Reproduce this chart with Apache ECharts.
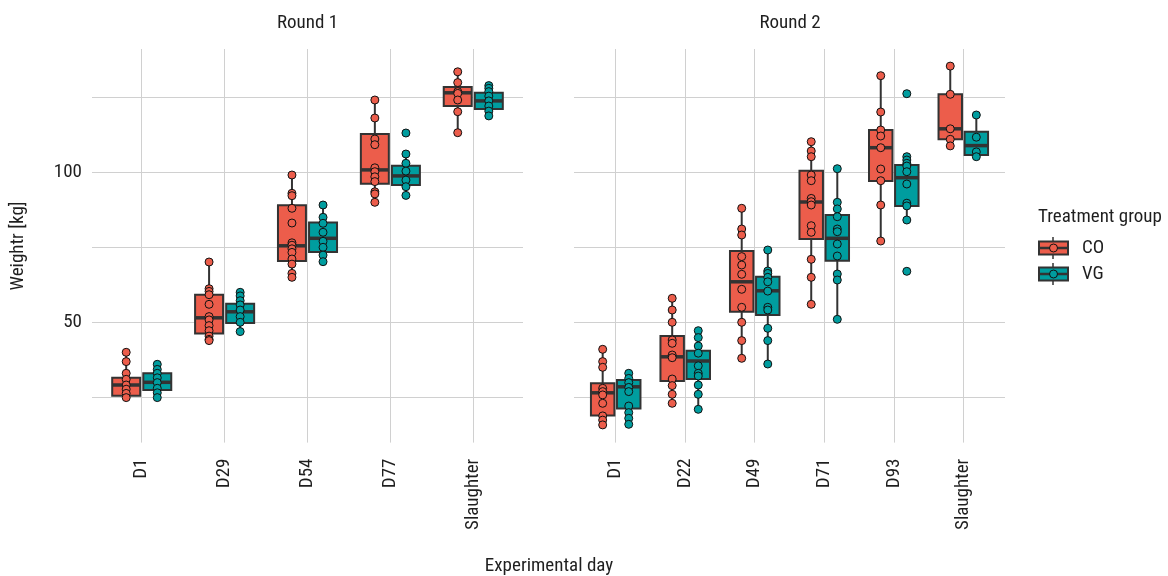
<!DOCTYPE html>
<html><head><meta charset="utf-8">
<script src="https://cdn.jsdelivr.net/npm/echarts@6/dist/echarts.min.js"></script>
<style>html,body{margin:0;padding:0;background:#fff}#c{width:1168px;height:576px}</style>
</head><body><div id="c"></div>
<script>
const FONT = "'Roboto Condensed', 'Noto Sans', sans-serif";
const FS = 19;
const round1Days = ['D1', 'D29', 'D54', 'D77', 'Slaughter'];
const round2Days = ['D1', 'D22', 'D49', 'D71', 'D93', 'Slaughter'];
const groupNames = ['CO', 'VG'];
const yGridValues = [25, 50, 75, 100, 125];
const yLabelValues = [50, 100];

// box stats per day: [lower whisker, Q1, median, Q3, upper whisker]
const r1CoBox = [[24.8, 25.4, 29.0, 31.4, 39.9], [43.8, 46.2, 51.4, 59.1, 70.0], [64.9, 70.3, 75.4, 88.9, 99.0], [89.9, 96.1, 100.7, 112.7, 124.0], [113.1, 122.0, 126.4, 128.3, 133.4]];
const r1VgBox = [[24.8, 27.3, 29.9, 32.9, 35.9], [46.8, 49.7, 53.4, 56.1, 59.9], [70.1, 73.3, 77.9, 83.2, 89.0], [92.2, 95.7, 98.7, 102.1, 106.0], [118.7, 121.0, 123.7, 126.4, 128.8]];
const r2CoBox = [[15.7, 18.8, 26.4, 29.6, 40.9], [22.9, 30.3, 38.4, 45.3, 57.9], [37.9, 53.4, 63.4, 73.7, 87.9], [55.9, 77.7, 90.0, 100.4, 110.1], [77.0, 97.0, 108.1, 114.0, 132.1], [108.7, 110.9, 114.4, 125.9, 135.3]];
const r2VgBox = [[15.9, 21.2, 28.4, 30.7, 32.9], [20.9, 31.0, 37.0, 40.4, 47.1], [36.0, 52.3, 60.4, 65.1, 74.0], [50.9, 70.4, 77.9, 85.7, 101.1], [84.0, 88.7, 98.1, 102.3, 105.1], [105.1, 105.7, 108.8, 113.4, 119.0]];

// individual animal weights per day
const r1CoPts = [
  [39.9, 36.8, 32.9, 30.9, 29.0, 27.6, 26.2, 24.8],
  [70.0, 61.1, 60.2, 59.1, 55.9, 51.8, 50.7, 48.8, 47.1, 45.3, 44.2, 43.8],
  [99.0, 92.9, 92.1, 87.9, 83.0, 76.4, 75.6, 74.4, 73.2, 71.0, 69.3, 66.2, 64.9],
  [124.0, 118.0, 111.0, 109.1, 101.4, 100.1, 98.4, 96.8, 93.4, 92.7, 89.9],
  [133.4, 129.8, 126.8, 126.2, 124.0, 120.1, 113.1]
];
const r1VgPts = [
  [35.9, 34.2, 32.9, 31.4, 29.8, 27.9, 26.4, 24.8],
  [59.9, 58.7, 57.1, 55.7, 54.0, 51.8, 49.9, 46.8],
  [89.0, 84.9, 82.9, 79.9, 76.9, 74.9, 72.3, 70.1],
  [113.0, 106.0, 102.9, 100.3, 97.3, 95.1, 92.2],
  [128.8, 127.9, 126.8, 125.3, 123.7, 122.0, 120.3, 118.7]
];
const r2CoPts = [
  [40.9, 36.8, 34.9, 27.9, 26.8, 25.7, 22.9, 18.7, 17.3, 15.7],
  [57.9, 54.0, 49.9, 44.0, 42.9, 39.0, 38.1, 31.0, 28.8, 25.9, 22.9],
  [87.9, 81.0, 79.0, 71.8, 69.0, 65.9, 60.9, 54.9, 49.9, 43.8, 37.9],
  [110.1, 107.0, 105.1, 99.0, 97.1, 91.2, 90.1, 89.0, 82.1, 79.9, 70.9, 64.9, 55.9],
  [132.1, 120.0, 114.0, 112.0, 108.1, 101.0, 97.1, 89.0, 77.0],
  [135.3, 125.9, 114.4, 110.9, 108.7]
];
const r2VgPts = [
  [32.9, 31.2, 29.8, 28.2, 26.8, 22.0, 19.8, 17.9, 15.9],
  [47.1, 44.8, 42.0, 39.6, 35.4, 32.9, 32.0, 29.0, 25.9, 20.9],
  [74.0, 67.0, 66.2, 64.9, 63.4, 60.3, 54.9, 54.0, 47.9, 43.8, 36.0],
  [101.1, 89.9, 87.7, 85.1, 81.0, 80.1, 76.0, 72.0, 66.0, 64.0, 50.9],
  [126.1, 105.1, 104.0, 102.9, 102.0, 100.1, 96.0, 89.6, 88.7, 84.0, 66.9],
  [119.0, 111.6, 106.7, 105.1]
];

const COLORS = ['#EC5D4B', '#009D9F'];
const EDGE = '#333333';
const DODGE = 0.1875;     // half of dodge spacing (category units)
const HALF_BOX = 0.16875; // half box width (category units)
const TXT = '#1f1f1f';

function boxData(stats, g) {
  return stats.map((s, i) => [i + (g === 0 ? -DODGE : DODGE)].concat(s));
}
function ptData(pts, g) {
  const out = [];
  pts.forEach((arr, i) => arr.forEach(v => out.push([i + (g === 0 ? -DODGE : DODGE), v])));
  return out;
}
function makeRender(color) {
  return function (params, api) {
    const x = api.value(0), lo = api.value(1), q1 = api.value(2), med = api.value(3), q3 = api.value(4), hi = api.value(5);
    const tl = api.coord([x - HALF_BOX, q3]);
    const br = api.coord([x + HALF_BOX, q1]);
    const pHi = api.coord([x, hi]), pLo = api.coord([x, lo]);
    const pQ3 = api.coord([x, q3]), pQ1 = api.coord([x, q1]);
    const mL = api.coord([x - HALF_BOX, med]), mR = api.coord([x + HALF_BOX, med]);
    return {
      type: 'group',
      children: [
        { type: 'line', shape: { x1: pHi[0], y1: pHi[1], x2: pQ3[0], y2: pQ3[1] }, style: { stroke: EDGE, lineWidth: 2 } },
        { type: 'line', shape: { x1: pQ1[0], y1: pQ1[1], x2: pLo[0], y2: pLo[1] }, style: { stroke: EDGE, lineWidth: 2 } },
        { type: 'rect', shape: { x: tl[0], y: tl[1], width: br[0] - tl[0], height: br[1] - tl[1] }, style: { fill: color, stroke: EDGE, lineWidth: 2 } },
        { type: 'line', shape: { x1: mL[0], y1: mL[1], x2: mR[0], y2: mR[1] }, style: { stroke: EDGE, lineWidth: 3.5 } }
      ]
    };
  };
}

function xAxisFor(gridIndex, days) {
  const idx = days.map((d, i) => i);
  return {
    type: 'value', gridIndex, min: -0.6, max: days.length - 0.4,
    axisLine: { show: false },
    axisTick: { show: false, customValues: idx },
    axisLabel: {
      customValues: idx, rotate: 90, margin: 16,
      formatter: v => days[Math.round(v)] || '',
      fontFamily: FONT, fontSize: FS, color: TXT
    },
    splitLine: { show: true, lineStyle: { color: '#d0d0d0', width: 1 } }
  };
}
function yAxisFor(gridIndex, showLabels) {
  return {
    type: 'value', gridIndex, min: 9.8, max: 141,
    axisLine: { show: false },
    axisTick: { show: false, customValues: yGridValues },
    axisLabel: { show: showLabels, customValues: yLabelValues, margin: 10, fontFamily: FONT, fontSize: FS, color: TXT },
    splitLine: { show: true, lineStyle: { color: '#d0d0d0', width: 1 } }
  };
}

const series = [];
[[r1CoBox, r1VgBox, r1CoPts, r1VgPts], [r2CoBox, r2VgBox, r2CoPts, r2VgPts]].forEach((set, gi) => {
  [0, 1].forEach(g => {
    series.push({
      type: 'custom', name: groupNames[g], xAxisIndex: gi, yAxisIndex: gi,
      renderItem: makeRender(COLORS[g]), data: boxData(set[g], g), z: 2, silent: true
    });
  });
  [0, 1].forEach(g => {
    series.push({
      type: 'scatter', name: groupNames[g], xAxisIndex: gi, yAxisIndex: gi,
      data: ptData(set[2 + g], g), symbolSize: 8, z: 3, silent: true,
      itemStyle: { color: COLORS[g], borderColor: '#111', borderWidth: 1, opacity: 1 }
    });
  });
});

function legendKey(y, color) {
  return [
    { type: 'line', shape: { x1: 1053, y1: y - 11, x2: 1053, y2: y + 11 }, style: { stroke: EDGE, lineWidth: 1.5 } },
    { type: 'rect', shape: { x: 1039, y: y - 6.5, width: 29, height: 13 }, style: { fill: color, stroke: EDGE, lineWidth: 2 } },
    { type: 'line', shape: { x1: 1039, y1: y, x2: 1068, y2: y }, style: { stroke: EDGE, lineWidth: 2.5 } },
    { type: 'circle', shape: { cx: 1053.5, cy: y, r: 4 }, style: { fill: color, stroke: '#111', lineWidth: 1 } }
  ];
}

const FONT_STR = FS + 'px ' + FONT;
const textStyle = (t, x, y, extra) => Object.assign({
  type: 'text', x, y,
  style: { text: t, fill: TXT, font: FONT_STR, align: 'center', verticalAlign: 'middle' }
}, extra || {});

const graphics = [
  textStyle('Round 1', 307.5, 23),
  textStyle('Round 2', 790, 23),
  textStyle('Experimental day', 549, 566),
  textStyle('Weightr [kg]', 18, 246, { rotation: Math.PI / 2 }),
  { type: 'text', x: 1038, y: 217, style: { text: 'Treatment group', fill: TXT, font: FONT_STR, align: 'left', verticalAlign: 'middle' } },
  { type: 'text', x: 1082, y: 248, style: { text: 'CO', fill: TXT, font: FONT_STR, align: 'left', verticalAlign: 'middle' } },
  { type: 'text', x: 1082, y: 274, style: { text: 'VG', fill: TXT, font: FONT_STR, align: 'left', verticalAlign: 'middle' } }
].concat(legendKey(248, COLORS[0]), legendKey(274, COLORS[1]));

const chart = echarts.init(document.getElementById('c'), null, { renderer: 'canvas' });
chart.setOption({
  animation: false,
  backgroundColor: '#ffffff',
  grid: [
    { left: 92, top: 49, width: 431, height: 393.6 },
    { left: 574, top: 49, width: 431, height: 393.6 }
  ],
  xAxis: [xAxisFor(0, round1Days), xAxisFor(1, round2Days)],
  yAxis: [yAxisFor(0, true), yAxisFor(1, false)],
  series,
  graphic: graphics
});
</script></body></html>
